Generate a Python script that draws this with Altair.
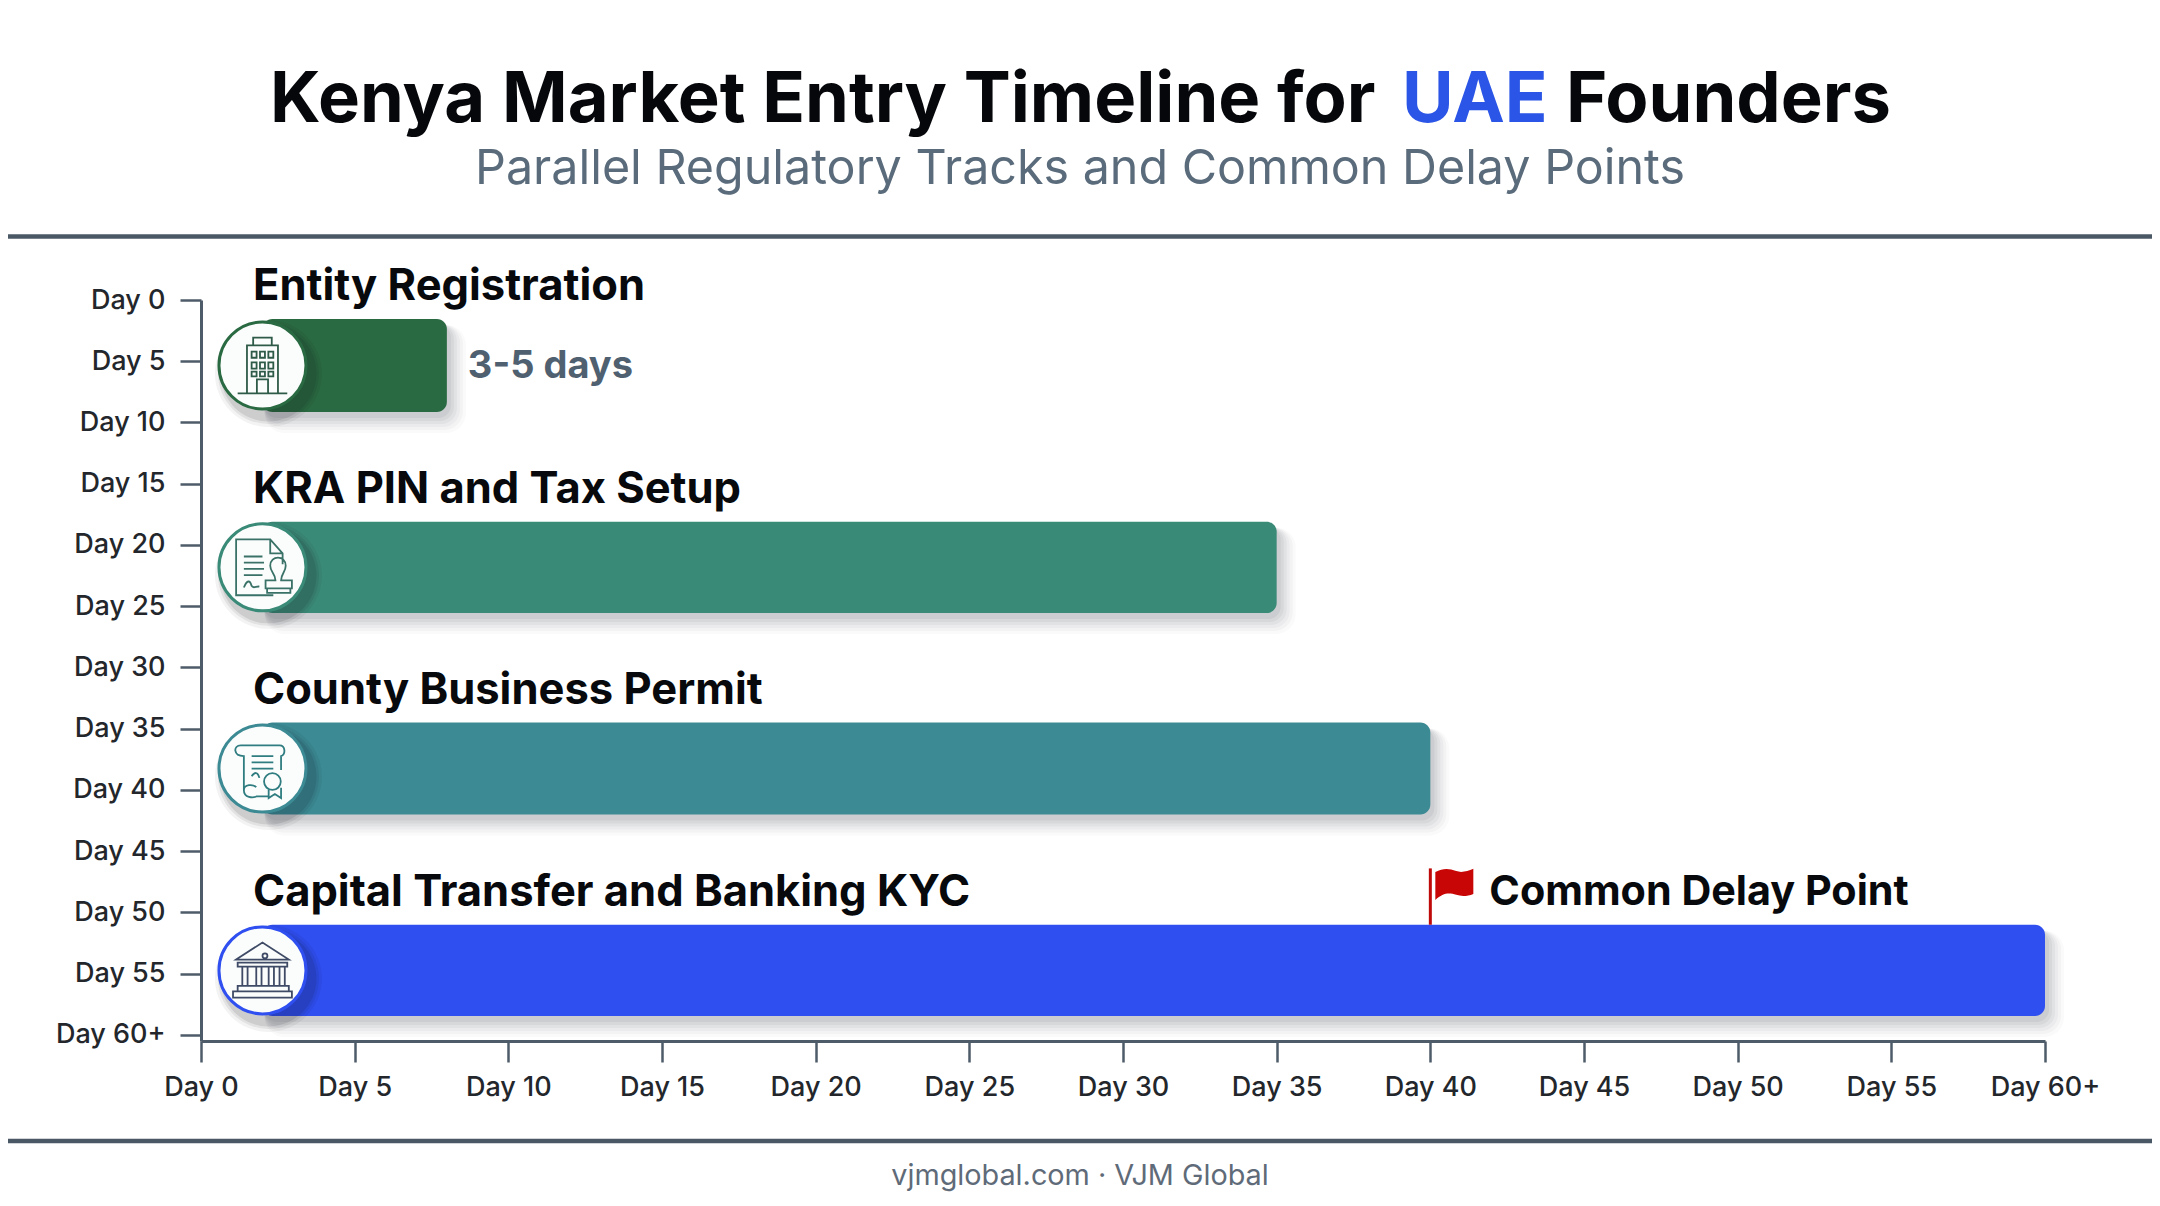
import altair as alt
import pandas as pd

FONT = "Inter"

tracks = ["Entity Registration", "KRA PIN and Tax Setup", "County Business Permit", "Capital Transfer and Banking KYC"]
track_end = [8, 35, 40, 60]
track_top = [1.55, 18.1, 34.5, 51.0]
track_bottom = [9.14, 25.55, 42.0, 58.45]
track_colors = ["#2a6a42", "#3a8a78", "#3c8a94", "#2f4ff0"]
icon_colors = ["#2e5a48", "#3a7268", "#2f7d80", "#3f4b66"]
track_start = [2, 2, 2, 2]

tick_days = list(range(0, 61, 5))
duration_note = ["3-5 days"]
delay_note = ["Common Delay Point"]
delay_day = [40]
flag_top = [46.4]

title_parts = ["Kenya Market Entry Timeline for", "UAE", "Founders"]
subtitle = ["Parallel Regulatory Tracks and Common Delay Points"]
footer = ["vjmglobal.com · VJM Global"]

building = ("M-0.8,0.9H0.8M-0.5,0.9V-0.65H0.5V0.9M-0.3,-0.65V-0.9H0.3V-0.65M-0.18,0.9V0.45H0.18V0.9"
            "M-0.35,-0.45h0.16v0.2h-0.16zM-0.08,-0.45h0.16v0.2h-0.16zM0.19,-0.45h0.16v0.2h-0.16z"
            "M-0.35,-0.1h0.16v0.2h-0.16zM-0.08,-0.1h0.16v0.2h-0.16zM0.19,-0.1h0.16v0.2h-0.16z"
            "M-0.35,0.2h0.16v0.15h-0.16zM-0.08,0.2h0.16v0.15h-0.16zM0.19,0.2h0.16v0.15h-0.16z")
document = ("M0.35,0.9H-0.85V-0.9H0.25L0.65,-0.45V-0.1M0.25,-0.9V-0.45H0.65"
            "M-0.6,-0.35H0M-0.6,-0.15H0.05M-0.6,0.05H0.05M-0.6,0.25H0"
            "M-0.6,0.65C-0.5,0.4 -0.4,0.4 -0.35,0.6C-0.3,0.7 -0.2,0.6 -0.1,0.62"
            "M0.25,-0.05C0.25,-0.4 0.75,-0.4 0.75,-0.05C0.75,0.15 0.6,0.2 0.6,0.42H0.95V0.68H0.1V0.42H0.42C0.42,0.2 0.25,0.15 0.25,-0.05Z"
            "M0.15,0.68V0.82H0.9V0.68")
scroll = ("M-0.7,-0.75C-0.95,-0.75 -0.95,-0.4 -0.6,-0.4V0.7C-0.6,0.95 -0.3,0.95 -0.2,0.9H0.2"
          "M-0.7,-0.75H0.55C0.75,-0.75 0.75,-0.45 0.6,-0.4V0.05M-0.6,0.7C-0.6,0.5 -0.3,0.5 -0.2,0.6"
          "M-0.35,-0.4H0.35M-0.35,-0.2H0.35M-0.35,0H0.35M-0.35,0.25C-0.25,0.1 -0.15,0.1 -0.1,0.3"
          "M0.32,0.15A0.27,0.27 0 1 0 0.321,0.15ZM0.2,0.65V0.95L0.4,0.82L0.6,0.95V0.62")
bank = ("M-0.85,-0.35L0,-0.9L0.85,-0.35ZM-0.8,-0.25H0.8V-0.12H-0.8Z"
        "M-0.65,-0.12V0.5M-0.48,-0.12V0.5M-0.2,-0.12V0.5M-0.03,-0.12V0.5M0.2,-0.12V0.5M0.37,-0.12V0.5M0.55,-0.12V0.5M0.72,-0.12V0.5"
        "M-0.8,0.5H0.85V0.68H-0.8ZM-0.95,0.68H0.95V0.88H-0.95Z"
        "M0.08,-0.55A0.08,0.08 0 1 0 0.081,-0.55Z")
flag_shape = ("M-1,-0.65C-0.6,-0.85 -0.3,-0.85 0.1,-0.7C0.4,-0.6 0.7,-0.7 1,-0.82"
              "L1,0.5C0.7,0.62 0.4,0.65 0.1,0.55C-0.3,0.42 -0.6,0.45 -1,0.82Z")
icons = [building, document, scroll, bank]

df = pd.DataFrame({"track": tracks, "start": track_start, "end": track_end, "top": track_top,
                   "bottom": track_bottom, "color": track_colors, "icon": icons, "ink": icon_colors})
df["mid"] = (df["top"] + df["bottom"]) / 2

label_expr = "datum.value == 60 ? 'Day 60+' : 'Day ' + datum.value"
AX = "#4e5b69"
x_scale = alt.Scale(domain=[0, 60], nice=False, zero=False)
y_scale = alt.Scale(domain=[0, 60.49], reverse=True, nice=False, zero=False)
common_axis = dict(values=tick_days, labelExpr=label_expr, grid=False, domainColor=AX, domainWidth=3,
                   tickColor=AX, tickWidth=2.5, tickSize=21, labelFont=FONT, labelFontSize=27,
                   labelColor="#23272c", labelFontWeight=500, labelOverlap=False, labelFlush=False, title=None)
x_enc = alt.X("start:Q", scale=x_scale, axis=alt.Axis(labelPadding=12, **common_axis))
y_enc = alt.Y("top:Q", scale=y_scale, axis=alt.Axis(labelPadding=15, **common_axis))

layers = []

# soft shadows of the bars
for grow, alpha in [(16, 0.025), (13, 0.03), (10, 0.035), (7, 0.045), (4, 0.05), (1, 0.06)]:
    layers.append(alt.Chart(df).mark_rect(color="#1c2530", opacity=alpha, cornerRadius=12 + grow / 2,
                                          xOffset=2, x2Offset=3 + grow, yOffset=6, y2Offset=5 + grow).encode(
        x=x_enc, x2="end:Q", y=y_enc, y2="bottom:Q"))

layers.append(alt.Chart(df).mark_rect(cornerRadius=10).encode(
    x=x_enc, x2="end:Q", y=y_enc, y2="bottom:Q",
    color=alt.Color("color:N", scale=None)))

# shadow of the round badges
for grow, alpha in [(15, 0.05), (9, 0.07), (4, 0.1)]:
    layers.append(alt.Chart(df).mark_point(filled=True, shape="circle", color="#10151c", opacity=alpha,
                                           size=(92 + grow) ** 2, xOffset=6, yOffset=8).encode(
        x=x_enc, y=alt.Y("mid:Q", scale=y_scale)))

layers.append(alt.Chart(df).mark_point(filled=True, shape="circle", fill="#fbfdfc", opacity=1,
                                       size=87 ** 2, strokeWidth=3).encode(
    x=x_enc, y=alt.Y("mid:Q", scale=y_scale),
    stroke=alt.Color("color:N", scale=None)))

for i in range(len(df)):
    layers.append(alt.Chart(df.iloc[[i]]).mark_point(filled=False, shape=icons[i], size=62 ** 2, strokeWidth=1.8,
                                                     opacity=1).encode(
        x=x_enc, y=alt.Y("mid:Q", scale=y_scale),
        stroke=alt.Color("ink:N", scale=None)))

# track names
layers.append(alt.Chart(df).mark_text(align="left", baseline="middle", font=FONT, fontSize=43.5, fontWeight=700,
                                      color="#07090c", dx=52, dy=-32).encode(
    x=alt.value(0), y=alt.Y("top:Q", scale=y_scale), text="track:N"))

# duration note
note = pd.DataFrame({"day": [track_end[0]], "mid": [df["mid"][0]], "text": duration_note})
layers.append(alt.Chart(note).mark_text(align="left", baseline="middle", font=FONT, fontSize=38, fontWeight=700,
                                        color="#4f6070", dx=21, dy=2).encode(
    x=alt.X("day:Q", scale=x_scale), y=alt.Y("mid:Q", scale=y_scale), text="text:N"))

# delay flag
delay = pd.DataFrame({"day": delay_day, "flag_top": flag_top, "top": [track_top[3]], "text": delay_note})
layers.append(alt.Chart(delay).mark_rule(color="#c00a0a", strokeWidth=3).encode(
    x=alt.X("day:Q", scale=x_scale), y=alt.Y("flag_top:Q", scale=y_scale), y2="top:Q"))
layers.append(alt.Chart(delay).mark_point(filled=True, shape=flag_shape, color="#c80606", opacity=1, size=38 ** 2,
                                          xOffset=24, yOffset=16, strokeWidth=0).encode(
    x=alt.X("day:Q", scale=x_scale), y=alt.Y("flag_top:Q", scale=y_scale)))
layers.append(alt.Chart(delay).mark_text(align="left", baseline="middle", font=FONT, fontSize=41.3, fontWeight=700,
                                         color="#07090c", dx=59, dy=-32).encode(
    x=alt.X("day:Q", scale=x_scale), y=alt.Y("top:Q", scale=y_scale), text="text:N"))


def page_text(text, px, py, size, weight, color, align="left"):
    return alt.Chart(pd.DataFrame({"t": [text]})).mark_text(
        align=align, baseline="middle", font=FONT, fontSize=size, fontWeight=weight, color=color).encode(
        x=alt.value(px - 201), y=alt.value(py - 300), text="t:N")


layers.append(page_text(title_parts[0], 270, 101, 70.5, 700, "#05070a"))
layers.append(page_text(title_parts[1], 1402, 101, 70.5, 700, "#2b55e6"))
layers.append(page_text(title_parts[2], 1566, 101, 70.5, 700, "#05070a"))
layers.append(page_text(subtitle[0], 1080, 169, 48.4, 400, "#5a6b7b", "center"))
layers.append(page_text(footer[0], 1080, 1176, 28.8, 400, "#5f6b78", "center"))

# header and footer rules
for py in [236.5, 1141]:
    layers.append(alt.Chart(pd.DataFrame({"a": [0]})).mark_rule(color="#4a5866", strokeWidth=4.5).encode(
        x=alt.value(-193), x2=alt.value(1951), y=alt.value(py - 300)))

chart = alt.layer(*layers).properties(
    width=1844, height=741, background="white",
    padding={"left": 193, "top": 292, "right": 107, "bottom": 158},
    autosize=alt.AutoSizeParams(type="none"),
).configure_view(stroke=None)

chart.save("out.html", embed_options={"renderer": "svg", "actions": False})
